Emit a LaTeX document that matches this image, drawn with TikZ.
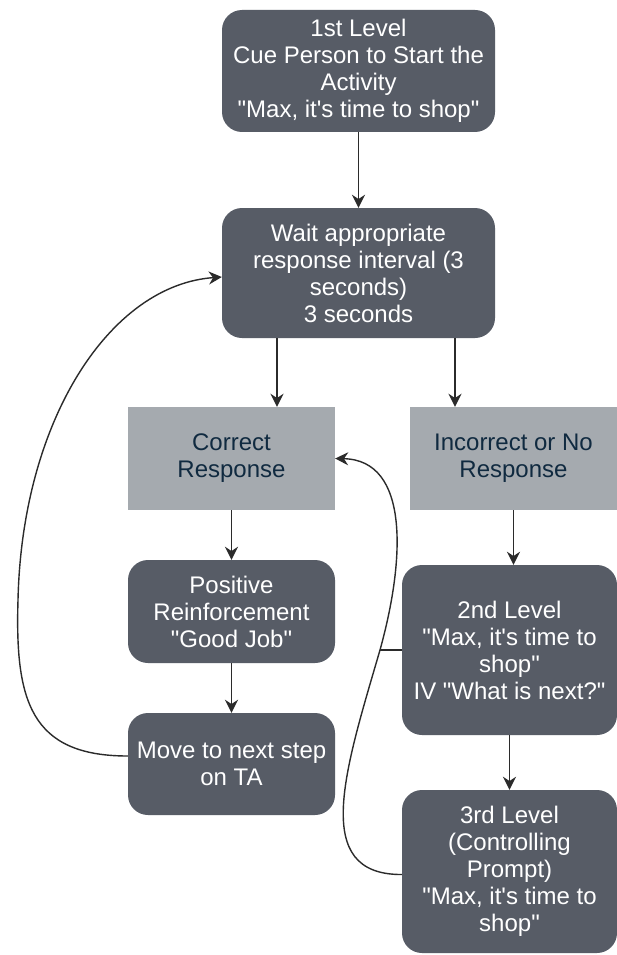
\documentclass[tikz,border=0pt]{standalone}
\usepackage{fontspec}
\setmainfont{Liberation Sans}[Ligatures=TeXOff]
\usetikzlibrary{arrows.meta}
\definecolor{boxdark}{HTML}{575C66}
\definecolor{boxlight}{HTML}{A5AAAF}
\definecolor{navytext}{HTML}{102A40}
\definecolor{lineclr}{HTML}{2B2B2B}
\begin{document}
\begin{tikzpicture}[x=1pt,y=-1pt,
  dbox/.style={fill=boxdark, rounded corners=20pt, text=white, align=center,
    font=\fontsize{24}{27}\selectfont, inner sep=0pt},
  lbox/.style={fill=boxlight, text=navytext, align=center,
    font=\fontsize{24}{27}\selectfont, inner sep=0pt},
  arr/.style={draw=lineclr, line width=1.8pt, -{Stealth[length=13pt,width=13pt]}},
  link/.style={draw=lineclr, line width=1.4pt}]
\useasboundingbox[fill=white] (0,0) rectangle (617,955);

\node[dbox, minimum width=273pt, minimum height=122pt] (top) at (358.5,71)
  {1st Level\\Cue Person to Start the\\Activity\\"Max, it's time to shop"};
\node[dbox, minimum width=273pt, minimum height=130pt] (wait) at (358.5,273)
  {Wait appropriate\\response interval (3\\seconds)\\3 seconds};
\node[lbox, minimum width=207pt, minimum height=103pt] (correct) at (231.5,458.5)
  {Correct\\Response};
\node[lbox, minimum width=207pt, minimum height=103pt] (incorrect) at (513.5,458.5)
  {Incorrect or No\\Response};
\node[dbox, minimum width=207pt, minimum height=103pt] (pos) at (231.5,611.5)
  {Positive\\Reinforcement\\"Good Job"};
\node[dbox, minimum width=207pt, minimum height=102pt] (move) at (231.5,764)
  {Move to next step\\on TA};
\node[dbox, minimum width=215pt, minimum height=170pt] (second) at (509.5,650)
  {2nd Level\\"Max, it's time to\\shop"\\IV "What is next?"};
\node[dbox, minimum width=215pt, minimum height=163pt] (third) at (509.5,871.5)
  {3rd Level\\(Controlling\\Prompt)\\"Max, it's time to\\shop"};

\draw[arr] (top.south) -- (wait.north);
\draw[arr] ([xshift=-81.5pt]wait.south) -- ([xshift=45.5pt]correct.north);
\draw[arr] ([xshift=96.5pt]wait.south) -- ([xshift=-58.5pt]incorrect.north);
\draw[arr] (correct.south) -- (pos.north);
\draw[arr] (pos.south) -- (move.north);
\draw[arr] (incorrect.south) -- (incorrect.south |- second.north);
\draw[arr] (second.south) -- (third.north);

\draw[arr, line width=1.4pt] ([yshift=8pt]move.west) .. controls (30,756) and (15,700) .. (18,600)
  .. controls (22,420) and (110,285) .. ([yshift=-4pt]wait.west);

\coordinate (j) at (380,650);
\draw[arr, line width=1.4pt] ([yshift=-3pt]third.west) .. controls (310,875) and (345,770) .. (j)
  .. controls (405,560) and (410,460) .. (correct.east);
\draw[link] (second.west) -- (j);
\end{tikzpicture}
\end{document}
